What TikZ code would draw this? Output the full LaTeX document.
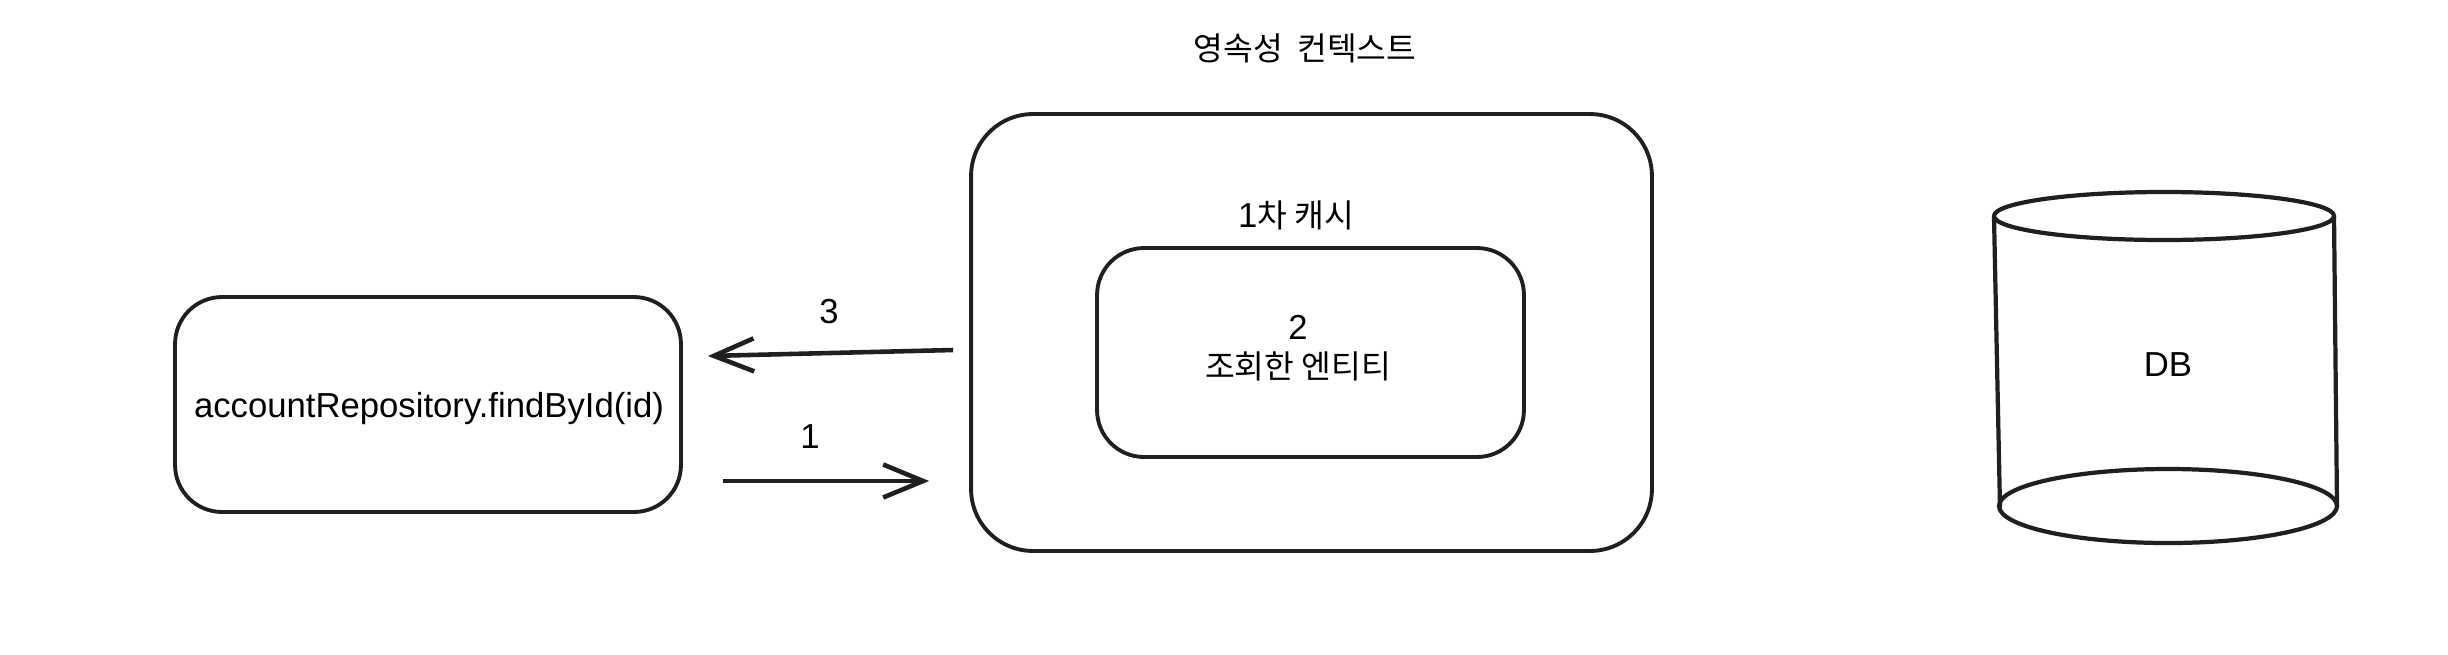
\documentclass[tikz,border=0pt]{standalone}
\usepackage{fontspec}
\setmainfont{Liberation Sans}
\newfontfamily\kr{Noto Sans CJK KR}
\usetikzlibrary{arrows.meta,calc}
\begin{document}
\begin{tikzpicture}[x=0.02cm,y=-0.02cm,
  box/.style={draw=black!88, line width=2.2pt, inner sep=0pt},
  lbl/.style={inner sep=0pt, font=\fontsize{19.75}{22.2}\selectfont},
  krl/.style={inner sep=0pt, font=\kr\fontsize{18.4}{22.2}\selectfont},
  arr/.style={draw=black!88, line width=2.6pt, -{Straight Barb[length=0.8cm,width=0.66cm,line width=2.6pt]}},
  edge/.style={draw=black!88, line width=2.4pt}]
\useasboundingbox[fill=white] (0,0) rectangle (2448,654);

% left box
\node[box, rounded corners=0.94cm, minimum width=10.12cm, minimum height=4.3cm] (left) at (428,404.5) {};
\node[lbl] (call) at (429,409) {accountRepository.findById(id)};

% persistence context
\node[box, rounded corners=1.24cm, minimum width=13.62cm, minimum height=8.74cm] (outer) at (1311.5,332.5) {};
\node[krl] (title) at (1305,48) {영속성 \ 컨텍스트};
\node[krl] (cachettl) at (1296,215) {{\fontspec{Liberation Sans}\fontsize{19.75}{22.2}\selectfont 1}차 캐시};
\node[box, rounded corners=0.94cm, minimum width=8.54cm, minimum height=4.18cm] (inner) at (1310.5,352.5) {};
\node[lbl, align=center] (entity) at (1298,348) {2\\{\kr\fontsize{18.4}{22.2}\selectfont 조회한 엔티티}};

% arrows
\draw[arr] ($(outer.west)+(-16,17.5)$) -- ($(left.east)+(25,-48.5)$);
\node[lbl] (n3) at (829,312) {3};
\draw[arr] ($(left.east)+(40,76.5)$) -- ($(outer.west)+(-40,148.5)$);
\node[lbl] (n1) at (810,437) {1};

% DB cylinder
\draw[edge] (2164,216) ellipse [x radius=170, y radius=24];
\draw[edge] (2168,506) ellipse [x radius=169, y radius=37];
\draw[edge] (1994,217) -- (2000,508);
\draw[edge] (2334,216) -- (2337,506);
\node[lbl] (db) at (2168,365) {DB};
\end{tikzpicture}
\end{document}
